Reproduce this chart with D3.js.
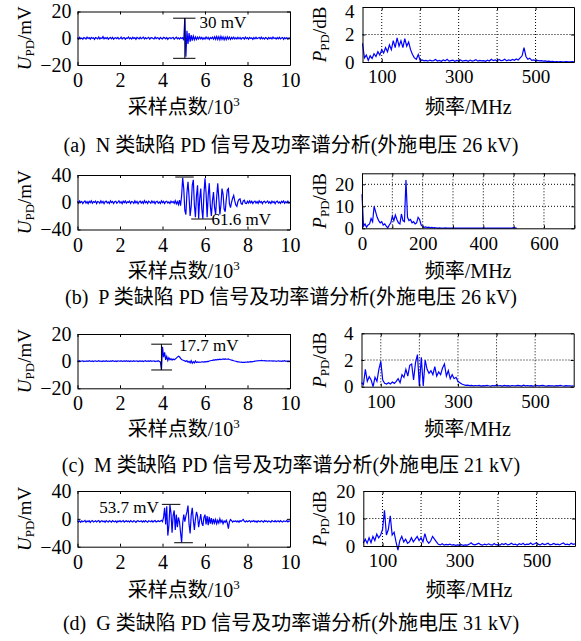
<!DOCTYPE html>
<html>
<head>
<meta charset="utf-8">
<script src="https://cdn.jsdelivr.net/npm/d3@7"></script>
<style>
body { margin: 0; background: #fff; }
svg { display: block; background: #fff; }
</style>
</head>
<body>
<svg id="fig" width="581" height="641"></svg>
<script>
// ---- 数据 ----
// 时域信号: 每点间隔 50 个采样点 (横轴单位 10^3)
var sigStep = 0.05;

var sigN = [
    0.4,-0.5,0.7,-0.3,0.2,-0.8,0.5,0.1,-0.6,0.8,
    -0.2,0.4,-0.7,0.6,-0.1,0.3,-0.9,0.5,0.2,-0.4,
    0.9,-0.6,0.3,-0.2,1.2,-0.5,0.4,-0.3,0.6,-0.7,
    0.2,0.5,-0.4,0.7,-0.8,0.1,0.4,-0.3,0.6,-0.5,
    -0.2,0.8,-0.6,0.3,0.5,-0.7,0.2,-0.1,0.9,-0.4,
    0.3,-0.6,0.7,-0.2,0.4,-0.8,0.6,0.1,-0.5,0.7,
    -0.3,0.2,0.8,-0.6,0.4,-0.4,0.1,0.7,-0.7,0.3,
    0.5,-0.2,-0.6,0.8,-0.3,0.4,0.2,-0.7,0.6,-0.1,
    -0.5,0.7,0.3,-0.4,0.6,-0.8,0.2,0.5,-0.3,0.4,
    0.6,-0.7,0.1,0.8,-0.4,0.3,-0.6,0.5,-0.2,0.4,
    -1.5,15.2,-13.8,5.5,-4.2,3.8,-2.6,2.4,-1.8,1.6,
    -1.2,1.0,-0.9,0.8,-0.6,0.9,-0.5,0.6,-0.8,0.4,
    -0.6,0.9,-0.4,0.7,-0.9,0.5,-0.3,0.8,-0.7,1.1,
    -0.8,1.3,-0.9,1.2,-1.1,1.4,-0.8,1.0,-1.2,0.9,
    -1.0,1.1,-0.7,0.9,-0.9,0.6,-0.5,0.8,-0.6,0.4,
    -0.5,0.7,-0.4,0.6,-0.7,0.3,0.5,-0.6,0.8,-0.3,
    0.4,-0.7,0.6,-0.2,0.3,-0.8,0.5,-0.4,0.7,-0.3,
    0.2,0.6,-0.5,0.8,-0.4,0.3,-0.6,0.5,0.1,-0.7,
    0.6,-0.3,0.4,-0.5,0.9,-0.2,0.3,-0.6,0.5,-0.4,
    0.7,-0.5,0.2,0.6,-0.8,0.4,-0.3,0.5,-0.6,0.3,
    0.2
];
var sigP = [
    1.5,-1.0,2.0,-0.5,1.2,-1.8,0.6,1.9,-1.2,0.8,
    -2.0,1.4,-0.6,2.2,-1.5,0.9,-0.3,1.7,-1.9,1.1,
    0.4,-1.6,2.1,-0.8,1.3,-2.2,0.7,1.8,-1.1,0.5,
    -1.7,2.0,-0.4,1.2,-1.8,0.9,1.6,-1.3,0.3,2.1,
    -1.0,0.8,-2.0,1.5,-0.6,1.9,-1.4,0.7,-0.2,1.6,
    -1.8,1.1,0.5,-1.5,2.0,-0.9,1.3,-2.1,0.6,1.7,
    -1.2,0.9,-1.6,2.2,-0.7,1.0,-1.9,1.4,0.2,-1.3,
    1.8,-0.8,1.2,-2.0,0.9,1.6,-1.4,0.5,-1.7,2.0,
    -0.6,1.3,-1.8,0.8,1.5,-1.1,0.4,-1.9,1.7,-0.5,
    1.2,-1.6,2.3,-2.5,1.0,-3.5,3,-5,10,36,
    20,-12,-18,14,30,8,-20,-6,25,33,
    -4,-22,10,25,-24,5,20,-10,-24,12,
    35,14,-22,10,28,-5,-20,2,15,-8,
    -18,8,28,6,-18,-4,20,12,-10,-14,
    4,18,20,-2,-8,0,6,10,2,-4,
    -6,1,4,5,-2,-3,2,3,-1.5,-2,
    1.5,-1.2,2.0,-0.8,1.4,-1.9,0.6,1.7,-1.3,0.9,
    -1.6,2.1,-0.5,1.2,-2.0,0.8,1.5,-1.0,0.3,1.9,
    -1.4,0.7,-1.8,1.6,-0.6,1.1,-2.1,0.9,1.8,-1.2,
    0.5,-1.7,1.3,-0.4,2.0,-1.5,0.8,-0.9,1.6,-1.1,
    0.6
];
var sigM = [
    0.2,-0.1,0.3,-0.2,0.1,0.2,-0.3,0.1,-0.1,0.2,
    -0.2,0.3,0.0,-0.1,0.2,-0.3,0.1,0.2,-0.2,0.0,
    0.3,-0.1,0.1,-0.3,0.2,0.0,-0.2,0.3,-0.1,0.1,
    -0.2,0.2,-0.1,0.3,0.0,-0.2,0.1,-0.3,0.2,0.1,
    -0.1,0.3,-0.2,0.0,0.2,-0.1,0.3,-0.2,0.1,-0.3,
    0.2,0.0,-0.1,0.3,-0.2,0.1,0.2,-0.3,0.0,0.2,
    -0.1,0.2,-0.3,0.1,0.3,-0.2,0.0,0.2,-0.1,0.3,
    -0.2,0.1,0.2,-0.3,0.1,-0.1,0.3,-0.2,-0.5,-6.5,
    10.5,3.0,6.5,1.0,3.5,0.5,2.5,1.0,1.8,0.8,
    1.5,1.0,1.6,2.2,3.0,3.6,3.2,2.0,1.2,0.8,
    0.5,0.2,-0.3,0.4,-0.8,-0.2,-1.2,0.3,-1.5,-0.4,
    -1.3,0.2,-1.0,-0.6,-0.9,-0.7,-0.8,-0.6,-0.5,-0.7,
    -0.4,-0.5,-0.2,-0.3,0.1,0.3,0.5,0.6,0.9,0.8,
    1.1,1.0,1.3,1.1,1.5,1.2,1.4,1.6,1.3,1.7,
    1.5,1.4,1.6,1.2,1.0,0.8,0.6,0.3,0.1,-0.1,
    -0.3,-0.5,-0.6,-0.8,-0.7,-0.9,-0.8,-0.9,-0.7,-0.8,
    -0.6,-0.7,-0.5,-0.4,-0.5,-0.3,-0.2,0.0,0.1,0.2,
    0.3,0.4,0.3,0.5,0.4,0.3,0.4,0.2,0.3,0.1,
    0.2,0.3,0.1,0.2,0.0,0.2,0.1,-0.1,0.1,0.2,
    0.0,0.1,-0.1,0.2,0.0,0.4,-0.1,0.1,0.0,0.1,
    0.0
];
var sigG = [
    -2.5,-4.5,-3.0,-5.0,-2.8,-4.2,-3.6,-2.2,-4.8,-3.1,
    -4.0,-2.6,-5.1,-3.3,-2.4,-4.6,-3.8,-2.9,-4.4,-3.0,
    -2.3,-4.9,-3.5,-2.7,-4.1,-3.2,-5.0,-2.6,-3.9,-4.5,
    -2.8,-3.4,-4.7,-2.5,-3.7,-4.3,-2.9,-5.2,-3.1,-4.0,
    -2.6,-4.4,-3.3,-2.4,-4.8,-3.6,-2.8,-4.2,-3.0,-4.6,
    -2.5,-3.9,-4.5,-2.7,-3.5,-5.0,-3.2,-2.6,-4.1,-3.7,
    -2.9,-4.6,-3.0,-4.3,-2.4,-3.8,-4.9,-2.8,-3.4,-4.2,
    -2.6,-4.7,-3.1,-2.5,-4.4,-3.6,-2.7,-4.0,-3.3,-2.0,
    -4,2,16,-8,18,-24,-10,20,8,-20,
    5,12,-16,6,-12,2,-4,-20,-34,-6,
    6,-4,4,10,19,-8,-21,5,16,-2,
    -16,0,10,4,-12,-2,7,-6,-10,2,
    6,-8,4,-9,3,-7,1,-8,0,-6,
    -1,-7,-2,-6,0,-5,-2,-7,-3,-5,
    -2,-6,-14,-4,-1,-2.5,-4.6,-3.2,-4.0,-2.8,
    -4.4,-3.0,-4.8,-2.6,-3.8,-2.2,-0.8,-3.6,-4.5,-2.9,
    -4.1,-3.3,-2.6,-4.7,-3.0,-3.9,-2.5,-4.3,-3.1,-4.9,
    -2.7,-3.6,-4.2,-2.8,-3.4,-4.6,-2.6,-3.9,-3.0,-4.4,
    -2.9,-3.7,-4.8,-2.5,-3.5,-4.1,-2.7,-4.5,-3.2,-3.0,
    -4.3,-2.6,-3.8,-4.6,-2.9,-3.4,-4.0,-2.4,-4.4,-3.1,
    -3.6
];

// 功率谱: 每点间隔 5 MHz
var specStep = 5;
var specN0 = 50, specP0 = 0, specM0 = 50, specG0 = 50;  // 起始频率 MHz
var specN = [
    1.35,0.3,0.5,0.12,0.45,0.25,0.6,0.4,0.75,0.5,
    0.9,0.65,1.05,0.75,1.25,0.9,1.55,1.05,1.75,1.15,
    1.55,1.05,1.7,1.15,1.45,0.9,0.55,0.3,0.2,0.55,
    0.1,0.15,0.08,0.12,0.06,0.14,0.08,0.1,0.18,0.07,
    0.12,0.05,0.15,0.08,0.2,0.06,0.1,0.14,0.05,0.12,
    0.08,0.15,0.06,0.1,0.12,0.05,0.14,0.07,0.1,0.16,
    0.06,0.12,0.08,0.1,0.05,0.13,0.07,0.2,0.1,0.15,
    0.08,0.18,0.1,0.12,0.2,0.08,0.15,0.1,0.18,0.12,
    0.22,0.15,0.3,0.45,1.05,0.4,0.2,0.28,0.12,0.15,
    0.1,0.12,0.08,0.1,0.06,0.08,0.05,0.06,0.03,0.04,
    0.02,0.03,0.02,0.03,0.02,0.02,0.03,0.02,0.02,0.03,
    0.02
];
var specP = [
    15.5,1.0,2.0,0.5,1.5,2.0,4.5,3.0,10.0,7.5,
    5.0,3.5,2.5,3.0,1.5,2.0,1.0,0.2,1.5,2.5,
    5.5,3.5,6.0,4.0,2.5,2.0,6.5,3.5,3.0,22.0,
    5.0,3.5,4.0,2.5,3.0,2.0,2.5,5.0,4.0,1.5,
    0.8,0.4,0.6,0.3,0.5,0.2,0.4,0.2,0.3,0.15,
    0.1,0.15,0.1,0.12,0.1,0.15,0.1,0.12,0.1,0.1,
    0.12,0.1,0.1,0.12,0.1,0.1,0.12,0.1,0.1,0.1,
    0.12,0.1,0.1,0.1,0.12,0.1,0.1,0.1,0.12,0.1,
    0.1,0.1,0.12,0.1,0.1,0.1,0.12,0.1,0.1,0.1,
    0.12,0.1,0.1,0.1,0.12,0.1,0.1,0.1,0.12,0.15,
    0.2,0.15,0.1
];
var specM = [
    0.3,0.15,1.3,0.4,0.75,0.5,0.0,0.7,0.4,1.3,
    1.9,0.5,0.25,0.2,0.3,0.2,0.35,0.25,0.4,0.6,
    0.3,0.9,0.7,1.3,0.8,1.6,1.7,0.5,1.8,2.4,
    0.05,2.2,0.05,2.0,1.3,1.0,1.2,0.9,1.5,0.8,
    1.1,0.9,1.4,1.7,0.8,1.2,0.6,0.9,0.6,0.7,
    0.4,0.3,0.2,0.15,0.1,0.12,0.08,0.1,0.06,0.09,
    0.07,0.1,0.05,0.08,0.06,0.1,0.07,0.05,0.09,0.06,
    0.12,0.07,0.08,0.05,0.1,0.06,0.08,0.05,0.09,0.07,
    0.06,0.1,0.08,0.05,0.12,0.07,0.09,0.06,0.08,0.05,
    0.07,0.09,0.06,0.08,0.1,0.06,0.05,0.08,0.06,0.07,
    0.05,0.08,0.06,0.1,0.07,0.05,0.08,0.06,0.07,0.05,
    0.06
];
var specG = [
    1.0,2.5,1.0,3.0,1.2,3.5,2.0,4.3,3.0,4.0,
    6.0,13.0,4.0,6.0,11.0,4.0,5.0,1.5,-1.5,2.0,
    3.5,1.5,2.5,1.0,1.5,3.0,1.5,2.5,3.5,2.0,
    3.0,1.5,4.5,2.0,1.0,1.8,3.5,2.5,1.5,0.6,
    0.4,0.8,0.3,0.6,0.4,0.7,0.3,0.5,0.2,0.4,
    0.3,0.5,0.2,0.4,0.3,0.6,1.2,0.6,0.4,0.7,
    1.0,0.5,0.3,0.7,0.4,0.8,0.5,0.3,0.9,0.4,
    0.6,0.3,0.8,0.5,0.9,0.4,0.6,1.0,0.5,0.7,
    0.3,0.8,0.5,1.0,0.4,0.7,0.6,1.1,0.5,0.8,
    1.2,0.6,0.4,0.9,0.5,0.7,1.0,0.4,0.6,0.9,
    0.5,0.7,0.4,0.8,1.1,0.5,0.7,0.4,1.0,0.6,
    0.8
];

// 标注: v 竖线位置, hi/lo 上下横线值, [hiL,hiR]/[loL,loR] 横线范围 (10^3)
var annN = { v: 5.05, hi: 15, lo: -15, hiL: 4.5, hiR: 5.55, loL: 4.5, loR: 5.55, text: '30 mV' };
var annP = { v: null, hi: 37, lo: -24.6, hiL: 4.6, hiR: 5.47, loL: 5.35, loR: 6.4, text: '61.6 mV' };
var annM = { v: 3.95, hi: 12.5, lo: -6.5, hiL: 3.47, hiR: 4.45, loL: 3.47, loR: 4.45, text: '17.7 mV' };
var annG = { v: null, hi: 20.8, lo: -34.3, hiL: 3.97, hiR: 4.84, loL: 4.55, loR: 5.43, text: '53.7 mV' };

// 坐标轴刻度
var tTicks = [0, 2, 4, 6, 8, 10];
var uTicks20 = [-20, 0, 20], uTicks40 = [-40, 0, 40];
var fTicksA = [100, 200, 300, 400, 500], fLabA = [100, 300, 500];
var fTicksB = [0, 100, 200, 300, 400, 500, 600, 700], fLabB = [0, 200, 400, 600];
var pTicks4 = [0, 2, 4], pTicks20 = [0, 10, 20];

var captions = [
    '(a)  N 类缺陷 PD 信号及功率谱分析(外施电压 26 kV)',
    '(b)  P 类缺陷 PD 信号及功率谱分析(外施电压 26 kV)',
    '(c)  M 类缺陷 PD 信号及功率谱分析(外施电压 21 kV)',
    '(d)  G 类缺陷 PD 信号及功率谱分析(外施电压 31 kV)'
];

// ---- 布局 ----
var FONT = '"Liberation Serif", "Times New Roman", "Noto Sans CJK SC", serif';
var rows = [
    { sig: sigN, uMax: 20, uTicks: uTicks20, ann: annN, annAt: 'hiR', annDx: 4, annDy: 4,
      spec: specN, f0: specN0, fDom: [50, 600], fTicks: fTicksA, fLab: fLabA, pDom: [0, 4], pTicks: pTicks4,
      L: [77.5, 290, 11.5, 65], R: [362.5, 574, 7, 62], labY: 107, capY: 145 },
    { sig: sigP, uMax: 40, uTicks: uTicks40, ann: annP, annAt: 'loR', annDx: -2, annDy: 0,
      spec: specP, f0: specP0, fDom: [0, 700], fTicks: fTicksB, fLab: fLabB, pDom: [0, 25], pTicks: pTicks20,
      L: [77.5, 290, 175, 229.5], R: [362, 574.3, 173.3, 228.3], labY: 271, capY: 297 },
    { sig: sigM, uMax: 20, uTicks: uTicks20, ann: annM, annAt: 'hiR', annDx: 7, annDy: 1,
      spec: specM, f0: specM0, fDom: [50, 600], fTicks: fTicksA, fLab: fLabA, pDom: [0, 4], pTicks: pTicks4,
      L: [77.5, 290, 334, 388.3], R: [361.5, 573.7, 333.3, 386.7], labY: 429, capY: 465 },
    { sig: sigG, uMax: 40, uTicks: uTicks40, ann: annG, annAt: 'hiL', annDx: -3, annDy: 3,
      spec: specG, f0: specG0, fDom: [50, 600], fTicks: fTicksA, fLab: fLabA, pDom: [0, 20], pTicks: pTicks20,
      L: [77.5, 290, 491, 546.7], R: [363.3, 575, 491, 546], labY: 590, capY: 623 }
];

var svg = d3.select('#fig');

// MATLAB 风格边框: 四边内向刻度
function drawBox(g, x, y, xt, yt, xfmt, yfmt, fs, padX, padY) {
    var b = y.range()[0], t = y.range()[1], l = x.range()[0], r = x.range()[1];
    var none = function () { return ''; };
    g.append('g').attr('transform', 'translate(0,' + b + ')')
        .call(d3.axisBottom(x).tickValues(xt).tickFormat(xfmt).tickSizeInner(-3).tickSizeOuter(0).tickPadding(padX));
    g.append('g').attr('transform', 'translate(0,' + t + ')')
        .call(d3.axisTop(x).tickValues(xt).tickFormat(none).tickSizeInner(-3).tickSizeOuter(0));
    g.append('g').attr('transform', 'translate(' + l + ',0)')
        .call(d3.axisLeft(y).tickValues(yt).tickFormat(yfmt).tickSizeInner(-3).tickSizeOuter(0).tickPadding(padY));
    g.append('g').attr('transform', 'translate(' + r + ',0)')
        .call(d3.axisRight(y).tickValues(yt).tickFormat(none).tickSizeInner(-3).tickSizeOuter(0));
    g.selectAll('.tick text').attr('font-size', fs).attr('font-family', FONT).attr('fill', '#000');
    g.selectAll('.domain, .tick line').attr('stroke', '#000').attr('stroke-width', 1);
}

function yLabel(x, y, main, unit) {
    var t = svg.append('text')
        .attr('transform', 'translate(' + x + ',' + y + ') rotate(-90)')
        .attr('text-anchor', 'middle')
        .attr('font-family', FONT)
        .attr('font-size', 19);
    t.append('tspan').attr('font-style', 'italic').text(main);
    t.append('tspan').attr('font-size', 13).attr('dy', 3).text('PD');
    t.append('tspan').attr('dy', -3).text(unit);
}

rows.forEach(function (row, k) {
    // ---- 左: 时域信号 ----
    var gl = svg.append('g');
    var x = d3.scaleLinear().domain([0, 10]).range([row.L[0], row.L[1]]);
    var y = d3.scaleLinear().domain([-row.uMax, row.uMax]).range([row.L[3], row.L[2]]);

    gl.append('path')
        .datum(row.sig)
        .attr('d', d3.line().x(function (d, i) { return x(i * sigStep); }).y(function (d) { return y(d); }))
        .attr('fill', 'none')
        .attr('stroke', '#0000ff')
        .attr('stroke-width', 1.2);

    drawBox(gl, x, y, tTicks, row.uTicks, d3.format('d'), d3.format('d'), 20, 8, 6);

    // 峰峰值标注
    var a = row.ann, ag = gl.append('g').attr('stroke', '#000').attr('stroke-width', 1);
    ag.append('line').attr('x1', x(a.hiL)).attr('x2', x(a.hiR)).attr('y1', y(a.hi)).attr('y2', y(a.hi));
    ag.append('line').attr('x1', x(a.loL)).attr('x2', x(a.loR)).attr('y1', y(a.lo)).attr('y2', y(a.lo));
    if (a.v !== null) {
        ag.append('line').attr('x1', x(a.v)).attr('x2', x(a.v)).attr('y1', y(a.hi)).attr('y2', y(a.lo));
    }
    var ax = { hiR: x(a.hiR), loR: x(a.loR), hiL: x(a.hiL) }[row.annAt];
    var ay = row.annAt === 'loR' ? y(a.lo) : y(a.hi);
    gl.append('text')
        .attr('x', ax + row.annDx)
        .attr('y', ay + row.annDy)
        .attr('dy', '0.35em')
        .attr('text-anchor', row.annAt === 'hiL' ? 'end' : 'start')
        .attr('font-family', FONT)
        .attr('font-size', 17)
        .text(a.text);

    yLabel(31, (row.L[2] + row.L[3]) / 2, 'U', '/mV');

    var xl = svg.append('text')
        .attr('x', (row.L[0] + row.L[1]) / 2)
        .attr('y', row.labY + 7)
        .attr('text-anchor', 'middle')
        .attr('font-family', FONT)
        .attr('font-size', 20);
    xl.append('tspan').text('采样点数/10');
    xl.append('tspan').attr('font-size', 13).attr('dy', -8).text('3');

    // ---- 右: 功率谱 ----
    var gr = svg.append('g');
    var fx = d3.scaleLinear().domain(row.fDom).range([row.R[0], row.R[1]]);
    var py = d3.scaleLinear().domain(row.pDom).range([row.R[3], row.R[2]]);

    // 点状网格
    var gx = row.fTicks.filter(function (d) { return d > row.fDom[0] && d < row.fDom[1]; });
    var gy = row.pTicks.filter(function (d) { return d > row.pDom[0] && d < row.pDom[1]; });
    var grid = gr.append('g').attr('stroke', '#000').attr('stroke-width', 1).attr('stroke-dasharray', '1,2');
    grid.selectAll('.gx').data(gx).enter().append('line')
        .attr('x1', function (d) { return fx(d); }).attr('x2', function (d) { return fx(d); })
        .attr('y1', row.R[2]).attr('y2', row.R[3]);
    grid.selectAll('.gy').data(gy).enter().append('line')
        .attr('y1', function (d) { return py(d); }).attr('y2', function (d) { return py(d); })
        .attr('x1', row.R[0]).attr('x2', row.R[1]);

    gr.append('path')
        .datum(row.spec)
        .attr('d', d3.line().x(function (d, i) { return fx(row.f0 + i * specStep); }).y(function (d) { return py(d); }))
        .attr('fill', 'none')
        .attr('stroke', '#0000ff')
        .attr('stroke-width', 1.2);

    var flab = row.fLab;
    drawBox(gr, fx, py, row.fTicks, row.pTicks,
        function (d) { return flab.indexOf(d) >= 0 ? d : ''; }, d3.format('d'), 19, 8, 8);
    // 贴近画布顶边的刻度标签稍下移
    gr.selectAll('.tick text').filter(function (d) { return d === row.pDom[1] && py(d) < 12; }).attr('dy', '0.56em');

    yLabel(326, (row.R[2] + row.R[3]) / 2, 'P', '/dB');

    svg.append('text')
        .attr('x', (row.R[0] + row.R[1]) / 2)
        .attr('y', row.labY + 7)
        .attr('text-anchor', 'middle')
        .attr('font-family', FONT)
        .attr('font-size', 20)
        .text('频率/MHz');

    // 子图标题
    svg.append('text')
        .attr('x', 291)
        .attr('y', row.capY + 7)
        .attr('text-anchor', 'middle')
        .attr('font-family', FONT)
        .attr('font-size', 20)
        .style('white-space', 'pre')
        .text(captions[k]);
});
</script>
</body>
</html>
